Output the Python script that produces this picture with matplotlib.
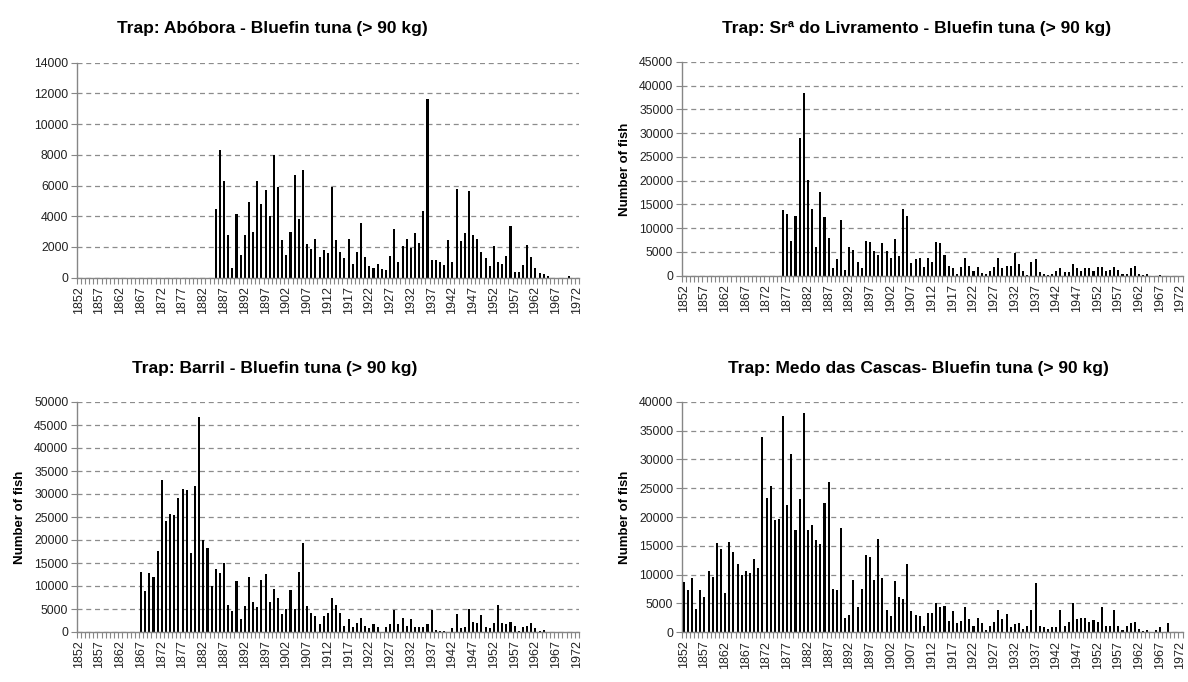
import numpy as np
import matplotlib
matplotlib.use("Agg")
import matplotlib.pyplot as plt

plt.rcParams['font.family'] = ['Liberation Sans', 'DejaVu Sans']

years = list(range(1852, 1973))

# Trap: Abóbora (first catch 1885)
abobora_start = 1885
abobora_vals = [4500, 8300, 6300, 2800, 630, 4150, 1500, 2800, 4900, 2950,
                6300, 4780, 5700, 4000, 8000, 5900, 2450, 1500, 2950, 6700,
                3800, 7000, 2200, 1850, 2550, 1350, 1800, 1600, 5900, 2450,
                1700, 1260, 2500, 900, 1700, 3560, 1350, 740, 650, 900,
                560, 480, 1400, 3150, 1000,
                2090, 2540, 1930, 2890, 2280, 4350, 11630, 1150, 1150, 1000,
                830, 2450, 1000, 5800, 2370, 2890, 5630, 2800, 2520, 1700,
                1260, 740, 2090, 1000, 910, 1410, 3390, 390, 390, 830,
                2110, 1350, 650, 300, 220, 130, 0, 0, 0, 0, 100]

# Trap: Srª do Livramento (first catch 1876)
livramento_start = 1876
livramento_vals = [13730, 12900, 7400, 12600, 29000, 38500, 20100, 14000, 6000, 17700,
                   12400, 7900, 1550, 3500, 11800, 1270, 6060, 5420, 2960, 1550,
                   7400, 7100, 5140, 4300, 6830, 5140, 3800, 7680, 4080, 14000,
                   12600, 2680, 3520, 3800, 1830, 3800, 2960, 7110, 6830, 4370,
                   2110, 1550, 420, 1830, 3800, 2110,
                   990, 1830, 560, 420, 990, 1830, 3800, 1550, 2110, 2110,
                   4720, 2390, 990, 210, 2960, 3520, 700, 420, 210, 420,
                   990, 1550, 700, 700, 2390, 1550, 990, 1550, 1550, 990,
                   1830, 1830, 990, 1270, 1830, 1270, 420, 420, 1550, 2110,
                   420, 210, 420, 0, 0, 210]

# Trap: Barril (first catch 1867)
barril_start = 1867
barril_vals = [13040, 8840, 12830, 11960, 17600, 33100, 24200, 25580, 25360, 29130,
               31090, 30800, 17100, 31670, 46800, 20000, 18190, 9930, 13620, 12830,
               15070, 5940, 4570, 11090, 2830, 5580, 11960, 6520, 5360, 11380,
               12540, 6520, 9350, 7390, 3990, 5000, 9060, 5000, 13040, 19350,
               5650, 4200, 3410, 1670, 3410, 4200,
               7400, 5940, 4200, 1380, 2830, 1090, 1960, 3120, 1380, 800,
               1670, 1090, 0, 1090, 1670, 4780, 1670, 3120, 1380, 2830,
               1090, 1090, 1090, 1670, 4780, 430, 290, 290, 0, 800,
               3990, 800, 1090, 5070, 2250, 1960, 3700, 1090, 800, 1960,
               5940, 1960, 1670, 2250, 1380, 290, 1090, 1380, 1960, 800,
               290, 430]

# Trap: Medo das Cascas (first catch 1852)
medo_start = 1852
medo_vals = [8670, 7280, 9360, 4100, 7280, 6180, 10690, 9600, 15430, 14390,
             6820, 15720, 13870, 11850, 10000, 10690, 10230, 12770, 11160, 33820,
             23290, 25320, 19420, 19650, 37460, 22140, 30980, 17750, 23060, 38090,
             17750, 18670, 16010, 15260, 22430, 26010, 7510, 7280, 18030, 2490,
             3010,
             9130, 4340, 7510, 13410, 13000, 9130, 16180, 9360, 3870, 2770,
             8900, 6180, 5720, 11850, 3640, 3010, 2770, 1160, 3410, 3410,
             5030, 4340, 4570, 2020, 3640, 1620, 2020, 4340, 2250, 1160,
             2490, 1620, 460, 1160, 1790, 3870, 2250, 3180, 920, 1390,
             1620,
             640, 1110, 3860, 8540, 1110, 880, 640, 880, 880, 3860,
             1110, 1810, 5030, 2280, 2510, 2510, 1810, 2050, 1810, 4390,
             1110, 1110, 3860, 1110, 410, 1110, 1580, 1810, 640, 180,
             410, 0, 410, 880, 0, 1580, 0, 0, 0]

titles = ["Trap: Abóbora - Bluefin tuna (> 90 kg)",
          "Trap: Srª do Livramento - Bluefin tuna (> 90 kg)",
          "Trap: Barril - Bluefin tuna (> 90 kg)",
          "Trap: Medo das Cascas- Bluefin tuna (> 90 kg)"]
ylims = [14000, 45000, 50000, 40000]
ysteps = [2000, 5000, 5000, 5000]
show_ylabel = [False, True, True, True]


def full_series(start, vals):
    out = np.zeros(len(years))
    i0 = years.index(start)
    n = min(len(vals), len(years) - i0)
    out[i0:i0 + n] = vals[:n]
    return out


series = [full_series(abobora_start, abobora_vals),
          full_series(livramento_start, livramento_vals),
          full_series(barril_start, barril_vals),
          full_series(medo_start, medo_vals)]

W, H = 1188, 682
fig = plt.figure(figsize=(W / 100, H / 100), dpi=100)
fig.patch.set_facecolor('white')


def rect(l, t, r, b):
    return [l / W, 1 - b / H, (r - l) / W, (b - t) / H]


boxes = [(76.7, 62.7, 579, 277.7),
         (681.7, 62.0, 1182.5, 275.7),
         (76.7, 402.0, 579, 632.0),
         (681.7, 401.7, 1182.5, 632.3)]
title_pos = [(272, 28), (917, 28), (275, 368), (918, 368)]
ylabel_x = [33, 625, 20, 625]

grey = '#868686'
x = np.arange(len(years))
for k in range(4):
    ax = fig.add_axes(rect(*boxes[k]))
    ax.bar(x, series[k], width=0.5, color='black', linewidth=0, zorder=3)
    ax.set_xlim(-0.5, len(years) - 0.5)
    ax.set_ylim(0, ylims[k])
    ax.set_yticks(np.arange(0, ylims[k] + 1, ysteps[k]))
    ax.yaxis.grid(True, color='#8c8c8c', linestyle=(0, (4, 3)), linewidth=0.9, zorder=0)
    ax.xaxis.grid(False)
    for s in ['top', 'right']:
        ax.spines[s].set_visible(False)
    for s in ['left', 'bottom']:
        ax.spines[s].set_color(grey)
        ax.spines[s].set_linewidth(1.0)
    ax.spines['bottom'].set_zorder(4)
    ticks = x[::5]
    ax.set_xticks(ticks)
    ax.set_xticklabels([str(years[i]) for i in ticks], rotation=90, fontsize=9, color='#222222')
    ax.set_xticks(np.arange(-0.5, len(years), 1), minor=True)
    ax.tick_params(axis='x', which='major', length=0, pad=6)
    ax.tick_params(axis='x', which='minor', length=4, color=grey, width=0.8, direction='out')
    ax.tick_params(axis='y', which='major', length=4, color=grey, width=0.8, labelsize=8.8,
                   labelcolor='#222222', pad=2)
    fig.text(title_pos[k][0] / W, 1 - title_pos[k][1] / H, titles[k], ha='center', va='center',
             fontsize=12.5, fontweight='bold')
    if show_ylabel[k]:
        yc = (boxes[k][1] + boxes[k][3]) / 2
        fig.text(ylabel_x[k] / W, 1 - yc / H, 'Number of fish', rotation=90, ha='center',
                 va='center', fontsize=9.5, fontweight='bold')

fig.savefig('out.png', dpi=100, facecolor='white')
